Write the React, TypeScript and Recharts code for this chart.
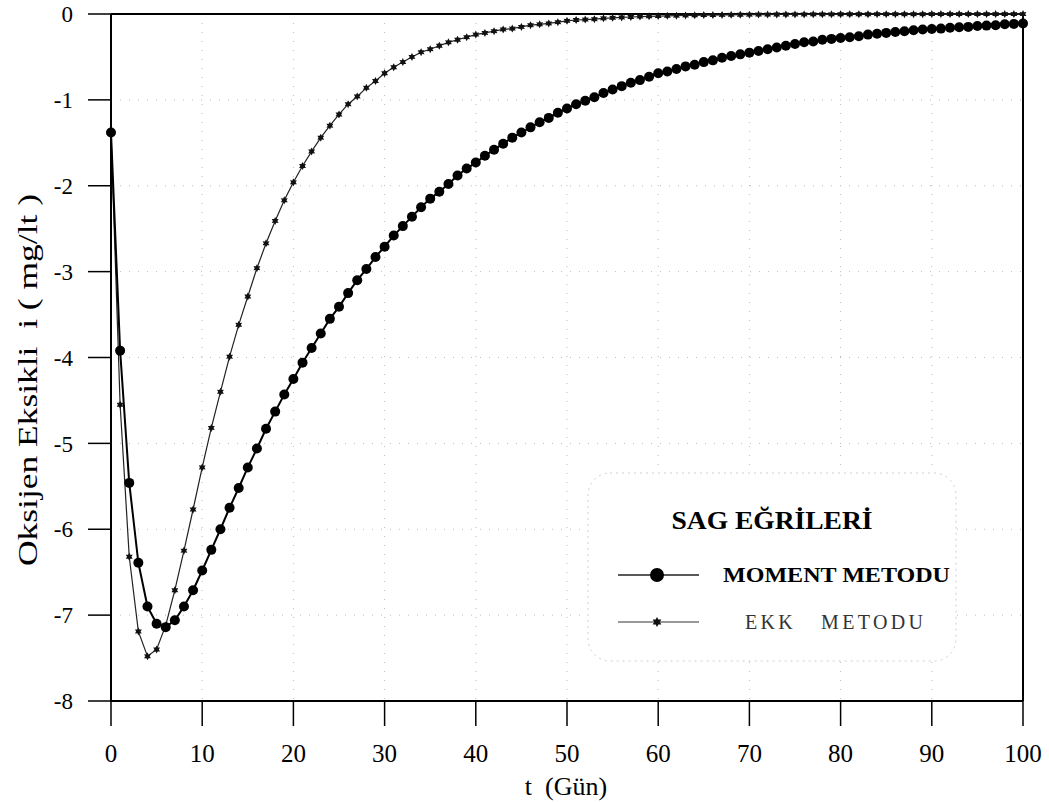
import React from 'react';
import { LineChart, Line, XAxis, YAxis, CartesianGrid, ReferenceLine, Legend, Label } from 'recharts';

// gün (t), 0..100
const DAYS = Array.from({ length: 101 }, (_, i) => i);

// Moment metodu – oksijen eksikliği (mg/lt)
const MOMENT = [
  -1.38, -3.92, -5.46, -6.39, -6.9, -7.1, -7.14, -7.06, -6.9, -6.71,
  -6.48, -6.24, -6.0, -5.75, -5.52, -5.28, -5.06, -4.83, -4.63, -4.43,
  -4.25, -4.06, -3.89, -3.72, -3.55, -3.41, -3.25, -3.1, -2.97, -2.83,
  -2.71, -2.58, -2.47, -2.36, -2.25, -2.15, -2.07, -1.98, -1.88, -1.8,
  -1.73, -1.65, -1.58, -1.51, -1.44, -1.38, -1.32, -1.26, -1.21, -1.15,
  -1.1, -1.05, -1.01, -0.97, -0.92, -0.88, -0.84, -0.8, -0.77, -0.73,
  -0.69, -0.67, -0.64, -0.61, -0.59, -0.56, -0.54, -0.51, -0.49, -0.47,
  -0.45, -0.43, -0.41, -0.39, -0.37, -0.35, -0.33, -0.32, -0.3, -0.29,
  -0.28, -0.27, -0.26, -0.24, -0.23, -0.22, -0.21, -0.2, -0.19, -0.18,
  -0.175, -0.17, -0.16, -0.155, -0.15, -0.14, -0.135, -0.13, -0.12, -0.115, -0.11,
];

// EKK metodu
const EKK = [
  -1.38, -4.55, -6.32, -7.19, -7.48, -7.4, -7.12, -6.71, -6.25, -5.77,
  -5.28, -4.82, -4.4, -3.99, -3.62, -3.29, -2.96, -2.67, -2.41, -2.17,
  -1.96, -1.77, -1.6, -1.44, -1.3, -1.17, -1.05, -0.96, -0.86, -0.78,
  -0.69, -0.62, -0.56, -0.5, -0.445, -0.41, -0.37, -0.33, -0.3, -0.27,
  -0.24, -0.22, -0.2, -0.18, -0.17, -0.15, -0.13, -0.12, -0.11, -0.095,
  -0.08, -0.07, -0.065, -0.06, -0.05, -0.045, -0.04, -0.035, -0.03, -0.027,
  -0.024, -0.021, -0.019, -0.017, -0.015, -0.013, -0.012, -0.011, -0.01, -0.009,
  -0.008, -0.007, -0.007, -0.006, -0.006, -0.005, -0.005, -0.004, -0.004, -0.004,
  -0.003, -0.003, -0.003, -0.003, -0.002, -0.002, -0.002, -0.002, -0.002, -0.002,
  -0.001, -0.001, -0.001, -0.001, -0.001, -0.001, -0.001, -0.001, -0.001, -0.001, -0.001,
];

const X_TICKS = [0, 10, 20, 30, 40, 50, 60, 70, 80, 90, 100];
const Y_TICKS = [-8, -7, -6, -5, -4, -3, -2, -1, 0];

const data = DAYS.map((t, i) => ({ t, moment: MOMENT[i], ekk: EKK[i] }));

const SERIF = '"Liberation Serif", "Times New Roman", serif';

const starPath = (cx: number, cy: number, ro: number, ri: number) => {
  let d = '';
  for (let k = 0; k < 12; k++) {
    const r = k % 2 === 0 ? ro : ri;
    const a = (Math.PI / 6) * k - Math.PI / 2;
    d += (k === 0 ? 'M' : 'L') + (cx + r * Math.cos(a)).toFixed(2) + ',' + (cy + r * Math.sin(a)).toFixed(2);
  }
  return d + 'Z';
};

const StarDot = (props: any) => {
  const { cx, cy, index } = props;
  if (cx == null || cy == null) return <g key={`s-${index}`} />;
  return <path key={`s-${index}`} d={starPath(cx, cy, 4, 2.2)} fill="#111" />;
};

// legend box drawn as its own small svg
const LegendBox = () => (
  <svg width={370} height={190} style={{ display: 'block' }}>
    <rect x={1} y={1} width={368} height={188} rx={22} fill="#fff" stroke="#cfcfcf" strokeDasharray="2 4" />
    <text x={185} y={57} textAnchor="middle" fontFamily={SERIF} fontWeight="bold" fontSize={25} textLength={201} lengthAdjust="spacingAndGlyphs">
      SAG EĞRİLERİ
    </text>
    <line x1={31} x2={112} y1={103} y2={103} stroke="#222" strokeWidth={1.5} />
    <circle cx={70} cy={103} r={7} fill="#000" />
    <text x={136} y={110} fontFamily={SERIF} fontWeight="bold" fontSize={21} textLength={227} lengthAdjust="spacingAndGlyphs">
      MOMENT METODU
    </text>
    <line x1={31} x2={112} y1={150} y2={150} stroke="#333" strokeWidth={1.2} />
    <path d={starPath(70, 150, 5, 2.8)} fill="#111" />
    <text x={158} y={157} fontFamily={SERIF} fontSize={20} fill="#333" textLength={178} lengthAdjust="spacing" style={{ whiteSpace: 'pre' }}>
      {'EKK   METODU'}
    </text>
  </svg>
);

export default function App() {
  return (
    <div style={{ position: 'absolute', left: 0, top: 0, width: 1049, height: 802, background: '#fff', overflow: 'hidden' }}>
      <LineChart width={1049} height={802} data={data} margin={{ top: 14, right: 26, bottom: 0, left: 0 }}>
        <CartesianGrid stroke="#bdbdbd" strokeDasharray="1 8" />
        <XAxis
          type="number"
          dataKey="t"
          domain={[0, 100]}
          ticks={X_TICKS}
          height={101}
          tickSize={25}
          tickMargin={18}
          axisLine={{ stroke: '#000', strokeWidth: 2 }}
          tickLine={{ stroke: '#000', strokeWidth: 1.5 }}
          tick={{ fill: '#000', fontSize: 25, fontFamily: SERIF }}
        >
          <Label
            content={() => (
              <text x={566} y={795} textAnchor="middle" fontSize={26} fontFamily={SERIF} fill="#000" style={{ whiteSpace: 'pre' }}>
                {'t  (Gün)'}
              </text>
            )}
          />
        </XAxis>
        <YAxis
          type="number"
          domain={[-8, 0]}
          ticks={Y_TICKS}
          width={111}
          tickSize={23}
          tickMargin={15}
          axisLine={{ stroke: '#000', strokeWidth: 2 }}
          tickLine={{ stroke: '#000', strokeWidth: 1.5 }}
          tick={{ fill: '#000', fontSize: 23, fontFamily: SERIF }}
        >
          <Label
            content={() => (
              <text
                x={28}
                y={380}
                transform="rotate(-90, 28, 380)"
                textAnchor="middle"
                dominantBaseline="central"
                fontSize={27}
                fontFamily={SERIF}
                fill="#000"
                textLength={372}
                lengthAdjust="spacingAndGlyphs"
                style={{ whiteSpace: 'pre' }}
              >
                {'Oksijen Eksikli  i ( mg/lt )'}
              </text>
            )}
          />
        </YAxis>
        <ReferenceLine y={0} stroke="#000" strokeWidth={2} />
        <ReferenceLine x={100} stroke="#000" strokeWidth={2} />
        <Legend
          layout="vertical"
          align="center"
          verticalAlign="middle"
          content={() => <LegendBox />}
          wrapperStyle={{ position: 'absolute', left: 587, top: 472, width: 370, height: 190 }}
        />
        <Line
          type="linear"
          dataKey="ekk"
          name="EKK METODU"
          stroke="#222"
          strokeWidth={1.2}
          dot={StarDot}
          activeDot={false}
          isAnimationActive={false}
        />
        <Line
          type="linear"
          dataKey="moment"
          name="MOMENT METODU"
          stroke="#000"
          strokeWidth={2}
          dot={{ r: 5, fill: '#000', stroke: '#000', strokeWidth: 0 }}
          activeDot={false}
          isAnimationActive={false}
        />
      </LineChart>
    </div>
  );
}
